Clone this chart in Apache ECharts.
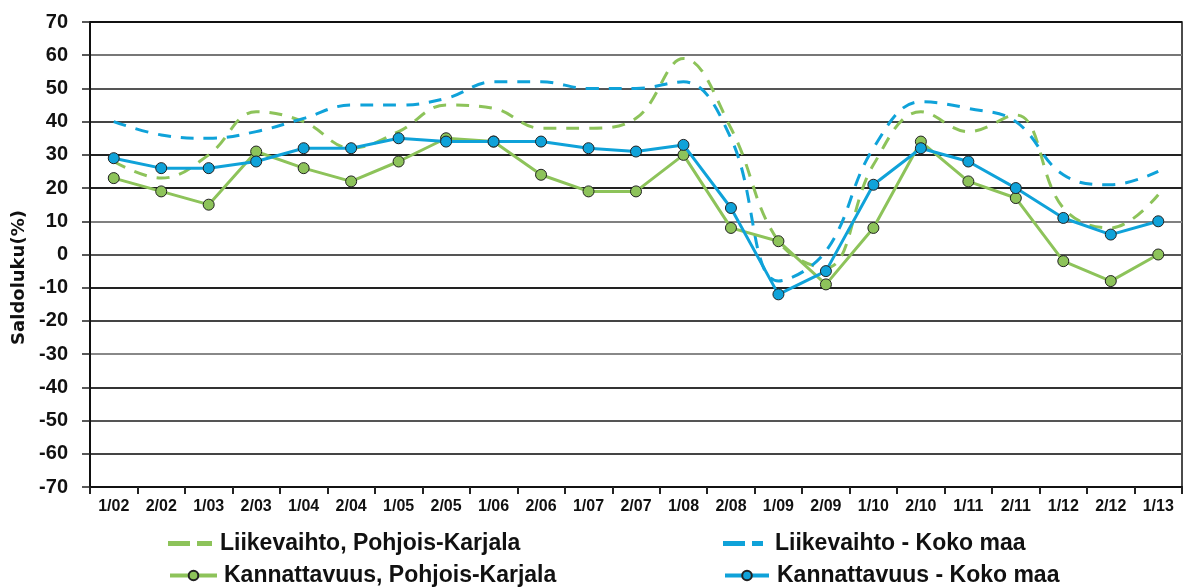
<!DOCTYPE html>
<html>
<head>
<meta charset="utf-8">
<script src="https://cdn.jsdelivr.net/npm/echarts@6/dist/echarts.min.js"></script>
<style>
html,body{margin:0;padding:0;background:#fff;}
#chart{width:1192px;height:587px;}
</style>
</head>
<body>
<div id="chart"></div>
<script>
const categories = ['1/02','2/02','1/03','2/03','1/04','2/04','1/05','2/05','1/06','2/06','1/07','2/07','1/08','2/08','1/09','2/09','1/10','2/10','1/11','2/11','1/12','2/12','1/13'];
const liikevaihtoPK = [28,23,30,43,40,32,37,45,44,38,38,41,59,38,4,-4,27,43,37,42,14,8,18];
const liikevaihtoKoko = [40,36,35,37,41,45,45,47,52,52,50,50,52,35,-8,1,32,46,44,40,24,21,25];
const kannattavuusPK = [23,19,15,31,26,22,28,35,34,24,19,19,30,8,4,-9,8,34,22,17,-2,-8,0];
const kannattavuusKoko = [29,26,26,28,32,32,35,34,34,34,32,31,33,14,-12,-5,21,32,28,20,11,6,10];
const seriesNames = ['Liikevaihto, Pohjois-Karjala','Liikevaihto - Koko maa','Kannattavuus, Pohjois-Karjala','Kannattavuus - Koko maa'];

const green = '#8dc35a';
const blue = '#0fa2d9';
const font = 'Liberation Sans, Arial, sans-serif';
const dashIcon1 = 'path://M0,0H22V5H0Z M29,0H44V5H29Z';
const dashIcon2 = 'path://M0,0H22V5H0Z M29,0H40V5H29Z';

function legendText(padLeft) {
  return {fontFamily: font, fontWeight: 'bold', fontSize: 23, color: '#111', padding: [0, 0, 0, padLeft]};
}

const chart = echarts.init(document.getElementById('chart'));
chart.setOption({
  animation: false,
  backgroundColor: '#fff',
  grid: {left: 90, right: 10, top: 22, bottom: 100, show: true, borderColor: '#111', borderWidth: 1.5},
  legend: [
    {left: 168, top: 532, padding: 0, itemWidth: 44, itemHeight: 5,
     data: [{name: seriesNames[0], icon: dashIcon1}], textStyle: legendText(3)},
    {left: 168, top: 564, padding: 0, itemWidth: 47, itemHeight: 12, lineStyle: {width: 4},
     data: [seriesNames[2]], textStyle: legendText(2)},
    {left: 723, top: 532, padding: 0, itemWidth: 40, itemHeight: 5,
     data: [{name: seriesNames[1], icon: dashIcon2}], textStyle: legendText(7)},
    {left: 723, top: 564, padding: 0, itemWidth: 44, itemHeight: 12, lineStyle: {width: 4},
     data: [seriesNames[3]], textStyle: legendText(3)}
  ],
  xAxis: {
    type: 'category', data: categories, boundaryGap: true,
    axisLine: {onZero: false, lineStyle: {color: '#111', width: 2}},
    axisTick: {show: true, length: 7, lineStyle: {color: '#222', width: 2}},
    axisLabel: {fontFamily: font, fontWeight: 'bold', fontSize: 16, color: '#111', margin: 12, interval: 0},
    splitLine: {show: false}
  },
  yAxis: {
    type: 'value', min: -70, max: 70, interval: 10,
    name: 'Saldoluku(%)', nameLocation: 'middle', nameGap: 60, nameRotate: 90,
    nameTextStyle: {fontFamily: 'DejaVu Sans, sans-serif', fontWeight: 'bold', fontSize: 18, color: '#111', padding: [0, 46, 0, 0]},
    axisLine: {show: true, lineStyle: {color: '#111', width: 2}},
    axisTick: {show: true, length: 8, lineStyle: {color: '#222', width: 1.5}},
    axisLabel: {fontFamily: font, fontWeight: 'bold', fontSize: 20, color: '#111', margin: 22},
    splitLine: {show: true, lineStyle: {width: 1.8, color: ['#111','#444','#555','#333','#888','#444','#222','#555','#808080','#222','#222','#444','#555','#777','#111']}}
  },
  series: [
    {name: seriesNames[0], type: 'line', data: liikevaihtoPK, smooth: 0.4, symbol: 'none', z: 2,
     lineStyle: {color: green, width: 3, type: [13, 10]}, itemStyle: {color: green}},
    {name: seriesNames[1], type: 'line', data: liikevaihtoKoko, smooth: 0.4, symbol: 'none', z: 2,
     lineStyle: {color: blue, width: 3, type: [13, 10]}, itemStyle: {color: blue}},
    {name: seriesNames[2], type: 'line', data: kannattavuusPK, symbol: 'circle', symbolSize: 11, z: 3,
     lineStyle: {color: green, width: 3}, itemStyle: {color: green, borderColor: '#222', borderWidth: 1}},
    {name: seriesNames[3], type: 'line', data: kannattavuusKoko, symbol: 'circle', symbolSize: 11, z: 4,
     lineStyle: {color: blue, width: 3}, itemStyle: {color: blue, borderColor: '#222', borderWidth: 1}}
  ]
});
</script>
</body>
</html>
